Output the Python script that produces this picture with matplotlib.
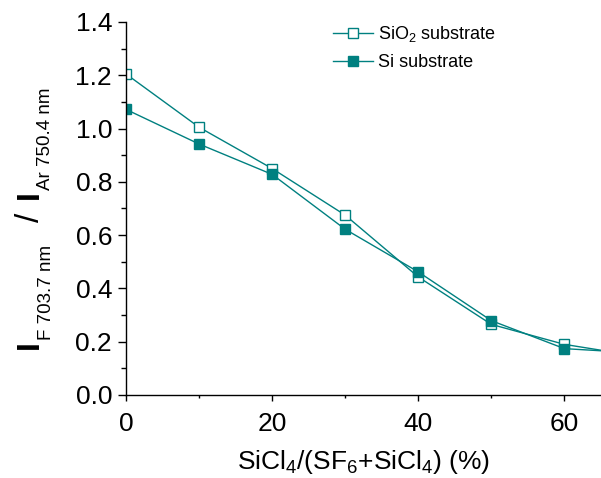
import matplotlib
matplotlib.use("Agg")
import matplotlib.pyplot as plt
from matplotlib.ticker import MultipleLocator, FormatStrFormatter

plt.rcParams['font.family'] = ['Liberation Sans', 'DejaVu Sans']
plt.rcParams['mathtext.fontset'] = 'custom'
plt.rcParams['mathtext.rm'] = 'Liberation Sans'
plt.rcParams['mathtext.it'] = 'Liberation Sans:italic'

# Data
x = [0, 10, 20, 30, 40, 50, 60, 70]
sio2 = [1.205, 1.005, 0.85, 0.675, 0.443, 0.265, 0.19, 0.146]
si = [1.072, 0.942, 0.828, 0.622, 0.462, 0.279, 0.174, 0.158]
labels = ['SiO$_2$ substrate', 'Si substrate']
xlabel = 'SiCl$_4$/(SF$_6$+SiCl$_4$) (%)'
color = '#008080'

W, H = 601, 478
fig = plt.figure(figsize=(W / 100, H / 100), dpi=100)
ax = fig.add_axes([126 / W, 1 - 395 / H, (601 - 126) / W, (395 - 22) / H])

ax.plot(x, sio2, '-s', color=color, lw=1.0, ms=7, mfc='white', mec=color,
        mew=1.0, label=labels[0])
ax.plot(x, si, '-s', color=color, lw=1.0, ms=7, mfc=color, mec=color,
        mew=1.0, label=labels[1])

ax.set_xlim(0, 65)
ax.set_ylim(0, 1.4)
ax.xaxis.set_major_locator(MultipleLocator(20))
ax.xaxis.set_minor_locator(MultipleLocator(10))
ax.yaxis.set_major_locator(MultipleLocator(0.2))
ax.yaxis.set_minor_locator(MultipleLocator(0.1))
ax.yaxis.set_major_formatter(FormatStrFormatter('%.1f'))
for s in ['top', 'right']:
    ax.spines[s].set_visible(False)
for s in ['left', 'bottom']:
    ax.spines[s].set_linewidth(1.0)
ax.tick_params(which='both', direction='out', width=1.0, labelsize=19)
ax.tick_params(axis='y', which='major', length=6, pad=4)
ax.tick_params(axis='y', which='minor', length=3.5)
ax.tick_params(axis='x', which='major', length=4.5, pad=8)
ax.tick_params(axis='x', which='minor', length=2.5)

fig.text(363.5 / W, 1 - 469 / H, xlabel, ha='center', va='baseline',
         fontsize=19)

leg = ax.legend(loc='upper left', bbox_to_anchor=(333 / W, 1 - 24 / H),
                bbox_transform=fig.transFigure, frameon=False, fontsize=13,
                handlelength=2.2, handletextpad=0.3, labelspacing=0.55,
                borderpad=0, borderaxespad=0)

# Y label built from pieces (rotated text)
def ytxt(px, py, s, size, weight='normal'):
    fig.text(px / W, 1 - py / H, s, rotation=90, rotation_mode='anchor',
             ha='left', va='baseline', fontsize=size, fontweight=weight)

ytxt(38, 349, 'I', 23, 'bold')
ytxt(51, 339.5, 'F 703.7 nm', 13.5)
ytxt(39, 222, '/', 24)
ytxt(38, 199, 'I', 23, 'bold')
ytxt(50, 190, 'Ar 750.4 nm', 13.5)

fig.savefig('out.png', dpi=100)
